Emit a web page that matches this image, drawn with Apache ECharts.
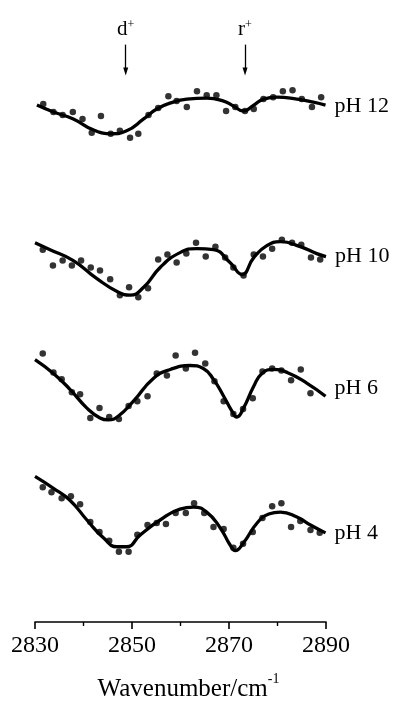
<!DOCTYPE html>
<html>
<head>
<meta charset="utf-8">
<script src="https://cdn.jsdelivr.net/npm/echarts@6/dist/echarts.min.js"></script>
<style>
  html, body { margin: 0; padding: 0; background: #fff; }
  #chart { width: 398px; height: 711px; }
</style>
</head>
<body>
<div id="chart"></div>
<script>
// Wavenumber axis
const xMin = 2830, xMax = 2890, xStep = 20;

// Band positions marked with arrows
const bandNames = ['d', 'r'];
const bandPositions = [2848.7, 2873.3];

// Spectra, stacked with vertical offsets (arbitrary units)
const phLabels = ['pH 12', 'pH 10', 'pH 6', 'pH 4'];

// pH 12
const fitWn12 = [2830.4, 2833.8, 2837.9, 2842.0, 2845.8, 2848.9, 2852.4, 2855.1, 2858.5, 2861.3, 2865.4, 2868.9, 2870.9, 2873.0, 2875.1, 2877.1, 2879.9, 2884.0, 2887.4, 2889.9];
const fit12 = [52.2, 51.5, 50.8, 49.7, 49.3, 49.6, 50.8, 51.8, 52.5, 52.8, 52.9, 52.6, 52.1, 51.6, 52.2, 52.8, 53.0, 52.8, 52.5, 52.2];
const ptWn12 = [2831.7, 2833.8, 2835.7, 2837.8, 2839.8, 2841.7, 2843.6, 2845.6, 2847.5, 2849.6, 2851.3, 2853.4, 2855.4, 2857.5, 2859.2, 2861.3, 2863.4, 2865.4, 2867.4, 2869.4, 2871.3, 2873.3, 2875.1, 2877.1, 2879.1, 2881.1, 2883.1, 2885.0, 2887.1, 2889.0];
const pt12 = [52.3, 51.5, 51.2, 51.5, 50.8, 49.4, 51.1, 49.3, 49.6, 48.9, 49.3, 51.2, 51.9, 53.1, 52.6, 52.0, 53.6, 53.2, 53.2, 51.6, 52.0, 51.6, 51.8, 52.8, 53.0, 53.6, 53.7, 52.8, 52.0, 53.0];

// pH 10
const fitWn10 = [2830.0, 2833.1, 2837.9, 2842.7, 2847.2, 2849.6, 2852.4, 2855.8, 2859.9, 2863.4, 2866.8, 2870.2, 2872.7, 2875.1, 2877.8, 2880.6, 2884.7, 2888.1, 2890.0];
const fit10 = [38.3, 37.6, 36.5, 34.7, 33.3, 33.0, 33.8, 35.8, 37.3, 37.7, 37.6, 36.3, 35.1, 36.8, 38.0, 38.4, 37.9, 37.2, 36.9];
const ptWn10 = [2831.6, 2833.7, 2835.7, 2837.6, 2839.5, 2841.5, 2843.4, 2845.5, 2847.5, 2849.4, 2851.3, 2853.3, 2855.4, 2857.3, 2859.2, 2861.2, 2863.2, 2865.2, 2867.2, 2869.2, 2870.9, 2873.0, 2875.1, 2877.0, 2878.9, 2880.9, 2883.0, 2884.9, 2886.9, 2888.8];
const pt10 = [37.6, 36.0, 36.5, 36.0, 36.5, 35.8, 35.5, 34.6, 33.0, 33.8, 32.8, 33.7, 36.6, 37.1, 36.3, 37.2, 38.3, 36.9, 37.9, 36.8, 35.8, 35.0, 37.1, 36.9, 37.7, 38.6, 38.3, 38.1, 36.8, 36.6];

// pH 6
const fitWn6 = [2830.0, 2833.8, 2837.2, 2840.7, 2843.4, 2845.1, 2847.2, 2850.3, 2854.4, 2857.9, 2862.0, 2864.7, 2866.8, 2868.9, 2870.6, 2871.6, 2873.0, 2875.1, 2876.8, 2879.2, 2882.0, 2886.1, 2889.9];
const fit6 = [26.5, 25.1, 23.5, 21.6, 20.6, 20.4, 20.8, 22.3, 24.6, 25.5, 25.9, 25.6, 24.5, 22.8, 21.3, 20.7, 21.6, 23.8, 25.1, 25.5, 25.2, 24.1, 22.8];
const ptWn6 = [2831.6, 2833.8, 2835.5, 2837.6, 2839.3, 2841.4, 2843.3, 2845.3, 2847.3, 2849.3, 2851.1, 2853.2, 2855.1, 2857.2, 2859.0, 2861.1, 2863.0, 2865.1, 2867.0, 2868.9, 2870.9, 2872.9, 2874.9, 2876.9, 2878.9, 2880.8, 2882.8, 2884.8, 2886.8];
const pt6 = [27.1, 25.2, 24.5, 23.2, 23.0, 20.6, 21.6, 20.7, 20.5, 21.8, 22.3, 22.8, 25.1, 24.9, 26.9, 25.6, 27.2, 26.1, 24.3, 22.3, 21.0, 21.5, 22.6, 25.3, 25.6, 25.4, 24.4, 25.5, 23.1];

// pH 4
const fitWn4 = [2830.0, 2833.8, 2837.2, 2840.7, 2844.1, 2846.9, 2848.9, 2851.7, 2855.8, 2859.9, 2862.7, 2865.4, 2868.2, 2870.2, 2871.3, 2873.0, 2875.8, 2878.2, 2880.6, 2884.0, 2886.8, 2889.9];
const fit4 = [14.7, 13.5, 12.3, 10.3, 8.5, 7.6, 7.6, 8.8, 10.3, 11.4, 11.6, 11.1, 9.5, 7.8, 7.2, 8.0, 10.0, 10.9, 11.1, 10.6, 9.8, 9.0];
const ptWn4 = [2831.6, 2833.4, 2835.5, 2837.4, 2839.3, 2841.4, 2843.3, 2845.3, 2847.3, 2849.3, 2851.1, 2853.2, 2855.1, 2857.0, 2859.0, 2861.1, 2862.8, 2864.9, 2866.8, 2868.9, 2870.9, 2872.9, 2874.9, 2876.9, 2878.9, 2880.8, 2882.8, 2884.7, 2886.8, 2888.7];
const pt4 = [13.6, 13.1, 12.5, 12.7, 11.9, 10.1, 9.1, 8.2, 7.1, 7.1, 8.8, 9.8, 10.0, 9.9, 11.0, 11.0, 12.0, 11.0, 9.6, 9.4, 7.5, 7.9, 9.1, 10.5, 11.7, 12.0, 9.6, 10.2, 9.3, 9.0];

const fitsWn = [fitWn12, fitWn10, fitWn6, fitWn4];
const fits = [fit12, fit10, fit6, fit4];
const ptsWn = [ptWn12, ptWn10, ptWn6, ptWn4];
const pts = [pt12, pt10, pt6, pt4];

// Arrow extent (in y units) above the top spectrum
const arrowTop = 58.3, arrowBottom = 55.6;

const INK = '#000';
const SERIF = '"Liberation Serif", "Times New Roman", serif';

const zip = (xs, ys) => xs.map((x, i) => [x, ys[i]]);
const labelShift = [1, 0, -8, 0];

const series = [];
phLabels.forEach((name, k) => {
  series.push({
    type: 'line',
    name: name + ' fit',
    data: zip(fitsWn[k], fits[k]),
    smooth: 0.5,
    showSymbol: false,
    symbol: 'none',
    lineStyle: { color: INK, width: 3.3 },
    endLabel: {
      show: true,
      formatter: name,
      color: INK,
      fontFamily: SERIF,
      fontSize: 22,
      distance: 9,
      offset: [0, labelShift[k]]
    },
    silent: true,
    z: 2
  });
  series.push({
    type: 'scatter',
    name: name,
    data: zip(ptsWn[k], pts[k]),
    symbol: 'circle',
    symbolSize: 6.5,
    itemStyle: { color: INK },
    silent: true,
    z: 3
  });
});

// Arrows marking the d+ and r+ bands
series.push({
  type: 'line',
  name: 'bands',
  data: [],
  silent: true,
  markLine: {
    silent: true,
    animation: false,
    symbol: ['none', 'triangle'],
    symbolSize: [5, 8],
    symbolRotate: 180,
    lineStyle: { color: INK, width: 1.3, type: 'solid' },
    label: {
      show: true,
      position: 'start',
      distance: 5,
      color: INK,
      fontFamily: SERIF,
      fontSize: 21,
      rich: {
        sup: { fontSize: 12, fontFamily: SERIF, color: INK, verticalAlign: 'top', lineHeight: 12 }
      }
    },
    data: bandPositions.map((wn, i) => [
      { coord: [wn, arrowTop], label: { formatter: bandNames[i] + '{sup|+}' } },
      { coord: [wn, arrowBottom] }
    ])
  }
});

const chart = echarts.init(document.getElementById('chart'), null, { renderer: 'canvas' });
chart.setOption({
  animation: false,
  backgroundColor: '#fff',
  grid: { left: 35, right: 72, top: 8, bottom: 83, containLabel: false },
  xAxis: {
    type: 'value',
    min: xMin,
    max: xMax,
    interval: xStep,
    name: 'Wavenumber/cm{sup|-1}',
    nameLocation: 'middle',
    nameGap: 50,
    nameTextStyle: {
      color: INK,
      fontFamily: SERIF,
      fontSize: 25,
      lineHeight: 34,
      padding: [0, 0, 0, 16],
      rich: {
        sup: { fontSize: 14, fontFamily: SERIF, color: INK, verticalAlign: 'top', lineHeight: 14 }
      }
    },
    axisLine: { show: true, lineStyle: { color: INK, width: 1.6 } },
    axisTick: { show: true, inside: false, length: 7, lineStyle: { color: INK, width: 1.6 } },
    minorTick: { show: true, splitNumber: 2, length: 4, lineStyle: { color: INK, width: 1.4 } },
    splitLine: { show: false },
    axisLabel: {
      color: INK,
      fontFamily: SERIF,
      fontSize: 24,
      margin: 12,
      formatter: (v) => String(v)
    }
  },
  yAxis: {
    type: 'value',
    min: 0,
    max: 62,
    show: false
  },
  series: series
});
</script>
</body>
</html>
